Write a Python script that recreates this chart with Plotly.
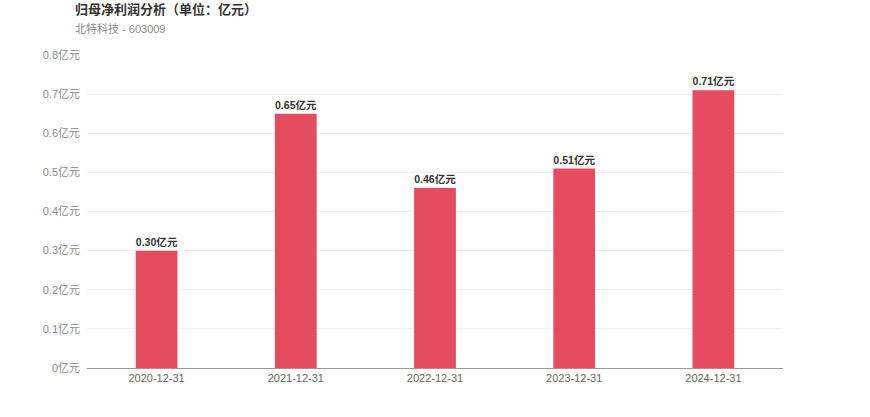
import plotly.graph_objects as go

categories = ["2020-12-31", "2021-12-31", "2022-12-31", "2023-12-31", "2024-12-31"]
values = [0.30, 0.65, 0.46, 0.51, 0.71]
tick_vals = [0, 0.1, 0.2, 0.3, 0.4, 0.5, 0.6, 0.7, 0.8]
tick_text = ["0亿元", "0.1亿元", "0.2亿元", "0.3亿元", "0.4亿元", "0.5亿元", "0.6亿元", "0.7亿元", "0.8亿元"]
labels = [f"{v:.2f}亿元" for v in values]

font_family = "Liberation Sans, Noto Sans CJK SC, sans-serif"

fig = go.Figure(go.Bar(
    x=categories, y=values, width=0.3,
    marker=dict(color="#e54c5f", line=dict(width=0)),
    text=labels, textposition="outside", cliponaxis=False,
    textfont=dict(size=11, color="#333333", family=font_family),
    texttemplate="<b>%{text}</b>",
))

fig.update_layout(
    width=870, height=417,
    margin=dict(l=87, r=87, t=55, b=49),
    paper_bgcolor="white", plot_bgcolor="white",
    showlegend=False,
    font=dict(family=font_family),
    xaxis=dict(type="category", showgrid=False, showline=True, linecolor="#999999", linewidth=1,
               ticks="", tickfont=dict(size=11, color="#666666"), fixedrange=True),
    yaxis=dict(range=[0, 0.8], tickvals=tick_vals, ticktext=tick_text,
               showgrid=True, gridcolor="#eeeeee", gridwidth=1, zeroline=False,
               showline=False, tickfont=dict(size=11, color="#888888"),
               ticklabelstandoff=6, fixedrange=True),
)
fig.add_annotation(text="<b>归母净利润分析（单位：亿元）</b>", xref="paper", yref="paper",
                   x=-14/696, y=1 + 46/313, xanchor="left", yanchor="middle", showarrow=False,
                   font=dict(size=13, color="#333333", family=font_family))
fig.add_annotation(text="北特科技 - 603009", xref="paper", yref="paper",
                   x=-14/696, y=1 + 27/313, xanchor="left", yanchor="middle", showarrow=False,
                   font=dict(size=11, color="#888888", family=font_family))

fig.write_html("out.html", config={"displayModeBar": False},
               post_script="document.body.style.margin='0';")
